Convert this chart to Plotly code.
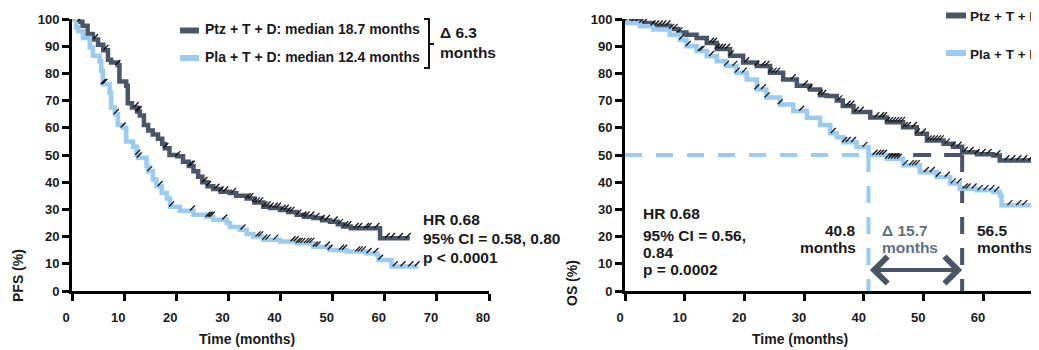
import numpy as np
import plotly.graph_objects as go

# ---------------- data ----------------
# PFS (left panel) Kaplan-Meier step points: time (months), survival (%)
pfs_ptz_t = [0, 1.2, 2, 3, 4, 5, 6, 6.9, 7.5, 8.8, 9.1, 10.4, 10.7, 11.5, 12.5, 13, 13.8, 14.6, 15.5,
             16.5, 17.3, 17.8, 18.7, 20.2, 21.3, 22.4, 23.3, 24.2, 25, 26, 27.1, 28.5, 30.3, 31.5, 33.5,
             35, 36.7, 38, 39.9, 41.5, 43.1, 44.5, 46.3, 48, 49.5, 51, 52, 53.5, 59.1, 64.8]
pfs_ptz_s = [100, 99, 97.5, 94.5, 92.5, 90.5, 88.5, 85, 84, 83, 77, 75.5, 69, 67.5, 66, 64.5, 61, 59, 57.5,
             56, 54, 52.5, 50, 49.5, 47.5, 46, 44, 42, 40, 38.5, 37.5, 36.5, 36, 35, 34,
             32.5, 31, 30.5, 29.8, 29, 28, 27.3, 26.8, 26, 25.5, 24.5, 23.7, 23.1, 19.4, 19.4]

pfs_pla_t = [0, 0.8, 1.2, 2.1, 3.4, 4, 5.3, 5.6, 5.9, 7.2, 7.5, 8.2, 8.8, 9.8, 10.4, 11.7, 12.4, 12.7,
             14.3, 14.6, 15.5, 16.2, 17.2, 18.2, 18.8, 20.7, 23.3, 25.8, 27.1, 29.7, 30.3, 32.2, 33.5,
             34.8, 36.7, 39.9, 43.1, 46.3, 49.5, 52.7, 56.5, 58.5, 58.8, 61.3, 66.4]
pfs_pla_s = [100, 97, 95.5, 93, 89.5, 86.5, 84.5, 81, 76, 73, 67.5, 65, 61, 60, 55, 53, 50, 49,
             46, 44, 41, 38.5, 36, 34, 31, 29.5, 28, 27.2, 26.2, 25, 23.5, 22.5, 21,
             20, 18.8, 18.2, 17.6, 16.3, 15.1, 14.5, 13.9, 13.3, 11.4, 9.0, 9.0]

# OS (right panel)
os_ptz_t = [0, 0.3, 2.5, 4.7, 7.5, 8.9, 10.3, 12, 13.7, 15.4, 17.6, 19.8, 22.1, 24.3, 26.5, 28.8, 31,
            32.7, 33.8, 35.5, 36.5, 38.3, 41.1, 43.9, 46.6, 48.9, 50.6, 53.4, 55, 56.5, 59, 61.7, 62.8, 72]
os_ptz_s = [100, 99.2, 98.5, 97.5, 96.3, 95, 94.2, 93, 91.2, 89, 86.5, 84, 82.7, 80.2, 77.8, 75.5, 74.1,
            72, 71.7, 70, 68, 65.8, 63.8, 62, 60.2, 57.8, 55.3, 54.1, 53, 51, 50.3, 49.8, 48, 48]

os_pla_t = [0, 0.3, 2.5, 4.7, 7.5, 9.2, 10.3, 12, 13.7, 15.4, 17, 18.7, 20.4, 22.1, 23.7, 26, 28.2,
            30.5, 32.7, 34.4, 35.5, 36.6, 38.8, 40.8, 43.9, 46.6, 49.4, 52.2, 54.5, 56.1, 58.9, 61.7,
            62.8, 63.1, 72]
os_pla_s = [100, 98.5, 97.3, 96.1, 94.2, 92.4, 90, 88.2, 86.3, 84.5, 82.7, 80.2, 77.8, 74.1, 71.1, 68.6,
            66.2, 63.7, 61, 58, 56.5, 54.7, 52.9, 50, 48.6, 46.2, 43.7, 41.9, 39.5, 37.6, 37, 36.4,
            35.2, 31.5, 31.5]

# censored observations (times, months)
pfs_ptz_cens = [1.5, 4.5, 6.5, 8.8, 12.3, 12.6, 12.9, 18, 20.3, 22.8, 23.1, 25.5, 26.2, 27.8, 28.6, 29.5,
                31, 33.8, 34.3, 35, 35.6, 36.2, 37, 37.6, 38.2, 39, 39.6, 40.5, 41.1, 41.6, 42.2, 43.5,
                44.5, 45.1, 46, 47, 48, 49, 50.5, 51.5, 52.5, 53.1, 54.5, 55.2, 56.5, 57, 58.5, 60.5,
                61.5, 63, 64.5]
pfs_pla_cens = [6, 6.3, 8.5, 9.8, 12.6, 12.9, 14.9, 16.9, 19.1, 23.1, 26.1, 26.5, 26.9, 29.3, 32.8, 35.7,
                36.2, 37, 37.6, 39.1, 42.4, 43, 43.4, 43.8, 44.3, 45, 45.5, 46, 46.7, 47.2, 49, 49.5,
                51.7, 52.3, 54.8, 55.3, 55.9, 57, 58.3, 59.2, 62, 63.5, 65, 66.2]
os_ptz_cens = [0.3, 1.5, 2.2, 2.8, 3.4, 4.7, 5.3, 5.9, 6.5, 7.2, 7.8, 8.4, 9.2, 14.5, 15, 15.5, 16, 16.5,
               17.2, 17.8, 20.4, 22.1, 23.2, 23.8, 24.4, 25, 25.6, 28.2, 30.2, 31, 32.7, 33.3, 36, 37.4,
               38, 38.8, 39.6, 42.2, 43, 43.5, 44, 44.5, 45, 45.5, 46, 46.5, 47, 47.5, 48.5, 49, 50,
               51, 51.5, 52, 52.5, 53, 54, 55, 56, 57, 58, 59, 60, 61, 62.5, 64, 65, 66, 67, 68]
os_pla_cens = [9.5, 10.6, 12.6, 12.9, 14.5, 17, 18.4, 18.8, 20, 22.1, 23.2, 23.8, 26, 29.6, 34.9, 36.8,
               37.4, 38.3, 40.2, 41.9, 42.5, 43, 43.5, 44, 44.5, 45, 45.5, 46, 47, 48, 48.5, 49, 50.5,
               51.5, 52.5, 54, 55, 56, 57, 57.5, 58.5, 59.5, 60.5, 61.5, 62.3, 64.5, 66, 67]

os_median_pla = 40.8
os_median_ptz = 56.5
x_ticks = [0, 10, 20, 30, 40, 50, 60, 70, 80]
y_ticks = [0, 10, 20, 30, 40, 50, 60, 70, 80, 90, 100]

# ---------------- style ----------------
DARK = "#4a5568"
LIGHT = "#9ccbf2"
FONT = "Liberation Sans, Arial, sans-serif"
OFF = 8                      # page body margin of the html page
W, H = 1039 - OFF, 350 - OFF
ML, MR, MT = 72 - OFF, 0, 19 - OFF
MB = H - (291 - OFF)
PW, PH = W - ML - MR, H - MT - MB
OS_PX_PER_MONTH = 5.967


def px2x(px):
    """reference-screen pixel x -> paper fraction"""
    return (px - OFF - ML) / PW


def py2y(py):
    """reference-screen pixel y -> paper fraction"""
    return (H - MB - (py - OFF)) / PH


def step_at(ts, ss, c):
    ts = np.asarray(ts)
    idx = np.searchsorted(ts, c, side="right") - 1
    return np.asarray(ss)[np.clip(idx, 0, len(ss) - 1)]


fig = go.Figure()

curves = [
    (pfs_ptz_t, pfs_ptz_s, pfs_ptz_cens, DARK, "x", "y", "Ptz + T + D"),
    (pfs_pla_t, pfs_pla_s, pfs_pla_cens, LIGHT, "x", "y", "Pla + T + D"),
    (os_ptz_t, os_ptz_s, os_ptz_cens, DARK, "x2", "y2", "Ptz + T + D"),
    (os_pla_t, os_pla_s, os_pla_cens, LIGHT, "x2", "y2", "Pla + T + D"),
]
for t, s, c, col, xa, ya, name in curves:
    fig.add_trace(go.Scatter(x=t, y=s, mode="lines", line=dict(color=col, width=4.5, shape="hv"),
                             xaxis=xa, yaxis=ya, name=name, showlegend=False, hoverinfo="skip"))
for t, s, c, col, xa, ya, name in curves:
    fig.add_trace(go.Scatter(x=c, y=step_at(t, s, c) + 1.0, mode="markers",
                             marker=dict(symbol="line-ne", size=5, line=dict(color="#111111", width=1.3)),
                             xaxis=xa, yaxis=ya, showlegend=False, hoverinfo="skip"))

axis_common = dict(showline=True, linewidth=3, linecolor="black", ticks="outside", ticklen=7,
                   tickwidth=3, tickcolor="black", showgrid=False, zeroline=False,
                   tickfont=dict(family=FONT, size=13, color="#1a1a1a", weight="bold"))
fig.update_layout(
    width=W, height=H, margin=dict(l=ML, r=MR, t=MT, b=MB),
    paper_bgcolor="white", plot_bgcolor="white", showlegend=False,
    xaxis=dict(domain=[0, px2x(489)], range=[0, 80], tickvals=x_ticks, anchor="y",
               ticklabelshift=-6, ticklabelstandoff=5, **axis_common),
    yaxis=dict(domain=[0, 1], range=[0, 100], tickvals=y_ticks, anchor="x", **axis_common),
    xaxis2=dict(domain=[px2x(625), 1], range=[0, (1039 - 625) / OS_PX_PER_MONTH], tickvals=x_ticks,
                anchor="y2", ticklabelshift=-5, ticklabelstandoff=5, **axis_common),
    yaxis2=dict(domain=[0, 1], range=[0, 100], tickvals=y_ticks, anchor="x2", **axis_common),
)

shapes = []
# OS median guide lines
shapes.append(dict(type="line", xref="x2", yref="y2", x0=0, x1=os_median_pla, y0=50, y1=50,
                   line=dict(color=LIGHT, width=4, dash="17px,14px"), layer="below"))
shapes.append(dict(type="line", xref="x2", yref="y2", x0=os_median_ptz, x1=os_median_pla, y0=50, y1=50,
                   line=dict(color=DARK, width=4, dash="18px,13px"), layer="below"))
shapes.append(dict(type="line", xref="x2", yref="y2", x0=os_median_pla, x1=os_median_pla, y0=50, y1=0,
                   line=dict(color=LIGHT, width=4, dash="17px,14px"), layer="below"))
shapes.append(dict(type="line", xref="x2", yref="y2", x0=os_median_ptz, x1=os_median_ptz, y0=50, y1=0,
                   line=dict(color=DARK, width=4, dash="17px,14px"), layer="below"))

# legend samples
for (x0, x1, yy, col) in [(180, 199, 30.5, DARK), (180, 199, 58, LIGHT), (946, 966, 15.5, DARK), (946, 966, 53, LIGHT)]:
    shapes.append(dict(type="line", xref="paper", yref="paper", x0=px2x(x0), x1=px2x(x1),
                       y0=py2y(yy), y1=py2y(yy), line=dict(color=col, width=6)))
# bracket
bx, bt, bb, bm = 429, 19, 68, 44
shapes.append(dict(type="path", xref="paper", yref="paper",
                   path=f"M {px2x(424)},{py2y(bt)} L {px2x(bx)},{py2y(bt)} L {px2x(bx)},{py2y(bb)} L {px2x(424)},{py2y(bb)}",
                   line=dict(color="#111111", width=2)))
shapes.append(dict(type="line", xref="paper", yref="paper", x0=px2x(bx), x1=px2x(434),
                   y0=py2y(bm), y1=py2y(bm), line=dict(color="#111111", width=2)))
fig.update_layout(shapes=shapes)

ann = []


def txt(text, px, py, anchor="left", size=15.5, color="#1a1a1a", angle=0):
    ann.append(dict(text=text, xref="paper", yref="paper", x=px2x(px), y=py2y(py), xanchor=anchor,
                    yanchor="middle", showarrow=False, textangle=angle,
                    font=dict(family=FONT, size=size, color=color, weight="bold")))


txt("Ptz + T + D: median 18.7 months", 203, 29, size=14)
txt("Pla + T + D: median 12.4 months", 203, 57, size=14)
txt("Δ 6.3", 438, 32)
txt("months", 438, 52)
txt("HR 0.68", 421, 219)
txt("95% CI = 0.58, 0.80", 421, 238)
txt("p < 0.0001", 421, 257.5)
txt("Time (months)", 247, 339, anchor="center", size=14)
txt("PFS (%)", 18, 276, anchor="center", size=14, angle=-90)

txt("Ptz + T + D", 968, 16, size=13.5)
txt("Pla + T + D", 968, 55, size=13.5)
txt("HR 0.68", 641, 213)
txt("95% CI = 0.56,", 641, 235)
txt("0.84", 641, 252)
txt("p = 0.0002", 641, 269)
txt("40.8", 858, 230, anchor="right")
txt("months", 858, 247, anchor="right")
txt("Δ 15.7", 880, 230, color="#5f6f86")
txt("months", 880, 247, color="#5f6f86")
txt("56.5", 975, 230)
txt("months", 975, 247)
txt("Time (months)", 800, 339, anchor="center", size=14)
txt("OS (%)", 572, 283, anchor="center", size=14, angle=-90)
# partially visible tick label at 70 on the cropped right axis
txt("70", 625 + 70 * OS_PX_PER_MONTH - 5, 314, anchor="center", size=13)

# double-headed arrow between the two OS medians
arrow_y = py2y(270) * 100
ann.append(dict(xref="x2", yref="y2", axref="x2", ayref="y2",
                x=os_median_ptz, y=arrow_y, ax=os_median_pla, ay=arrow_y, text="",
                showarrow=True, arrowhead=4, startarrowhead=4, arrowside="end+start",
                arrowwidth=4, arrowsize=1.3, startarrowsize=1.3, arrowcolor=DARK))
fig.update_layout(annotations=ann)

fig.write_html("out.html")
